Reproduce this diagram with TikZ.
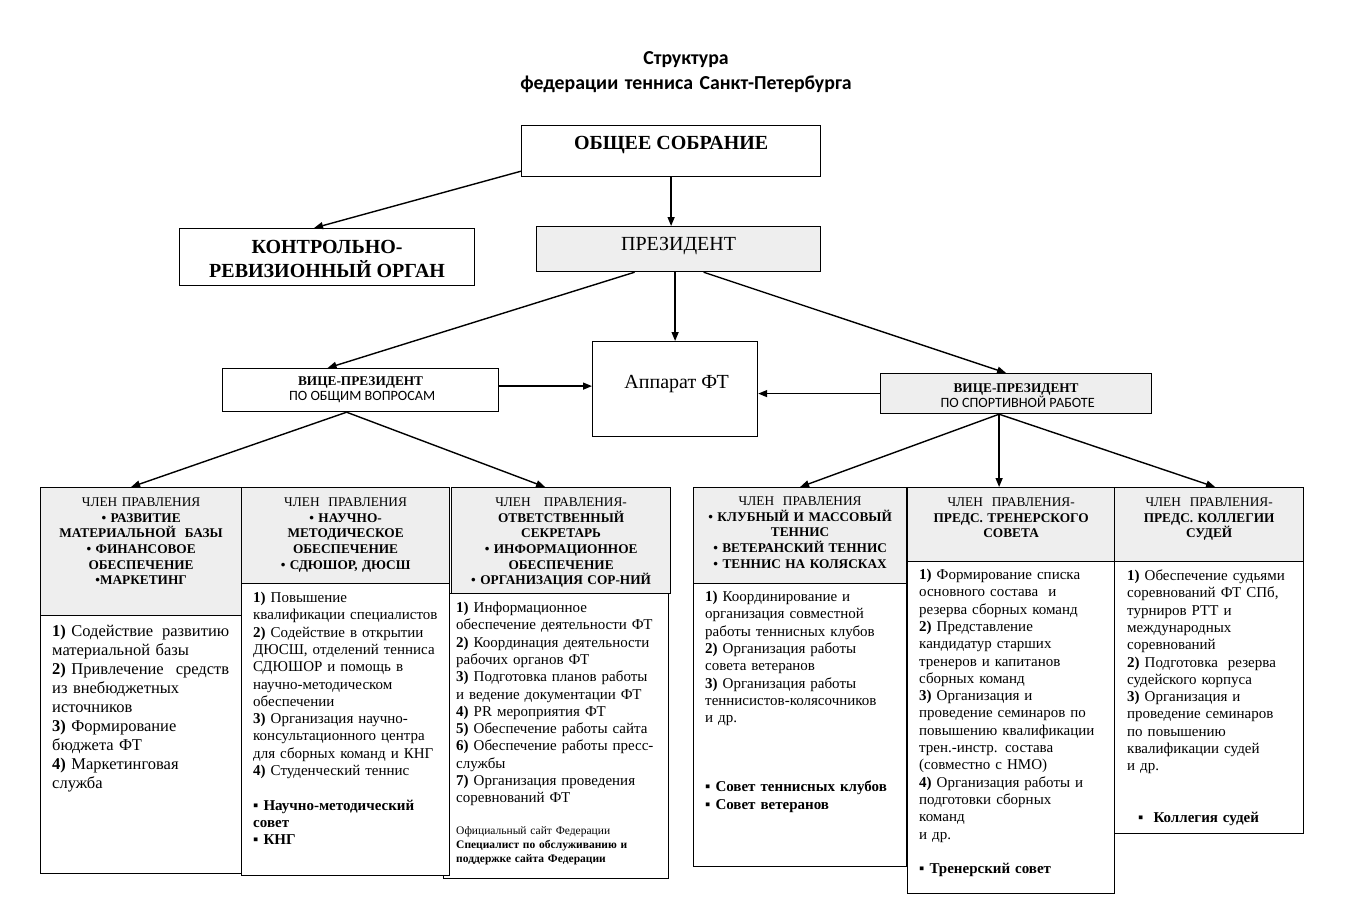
\documentclass[tikz,border=0pt]{standalone}
\usepackage{fontspec}
\setmainfont{Liberation Serif}
\newfontfamily\calibfont{Carlito}
\usetikzlibrary{calc}
\usetikzlibrary{arrows.meta}
\newcommand{\fsz}[2]{\fontsize{#1}{#2}\selectfont}

\begin{document}
\begin{tikzpicture}[x=1pt, y=1pt,
  box/.style={draw, line width=1.2pt, fill=white, inner sep=0pt, anchor=north west},
  greybox/.style={box, fill=gray!13},
  arr/.style={-{Triangle[length=9pt,width=7pt]}, line width=1.4pt},
  hdr/.style={anchor=base, align=center, inner sep=0pt, font=\fsz{13.3}{15.7}},
  body/.style={anchor=base west, align=left, inner sep=0pt, font=\fsz{15}{17.3}}]
\useasboundingbox (0,0) rectangle (1352,-905);

\node[anchor=base, align=center, text width=400pt, inner sep=0pt, font=\calibfont\bfseries\fsz{19.8}{25}] (title) at (686,-64) {Структура\\федерации тенниса Санкт-Петербурга};

\node[box, minimum width=299pt, minimum height=51pt] (sobr) at (521,-125) {};
\node[box, minimum width=295pt, minimum height=57pt] (kro) at (179,-228) {};
\node[greybox, minimum width=284pt, minimum height=45pt] (pres) at (536,-226) {};
\node[box, minimum width=165pt, minimum height=95pt] (app) at (592,-341) {};
\node[box, minimum width=276pt, minimum height=43pt] (vp1) at (222,-368) {};
\node[greybox, minimum width=271pt, minimum height=40pt] (vp2) at (880,-373) {};

\node[anchor=base, inner sep=0pt, font=\bfseries\fsz{20}{24}] (sobr-t) at ($(sobr.north)+(0,-24.5)$) {ОБЩЕЕ СОБРАНИЕ};
\node[align=center, inner sep=0pt, font=\bfseries\fsz{20}{24}] (kro-t) at ($(kro.center)+(0,-1.5)$) {КОНТРОЛЬНО-\\РЕВИЗИОННЫЙ ОРГАН};
\node[anchor=base, inner sep=0pt, font=\fsz{20}{24}] (pres-t) at ($(pres.north)+(0,-24.6)$) {ПРЕЗИДЕНТ};
\node[anchor=base, inner sep=0pt, font=\fsz{20}{24}] (app-t) at ($(app.north)+(1.5,-47.6)$) {Аппарат ФТ};
\node[align=center, inner sep=0pt, font=\fsz{13.3}{15}] (vp1-t) at (vp1.center) {{\bfseries ВИЦЕ-ПРЕЗИДЕНТ}\\{\calibfont\fsz{14.2}{15} ПО ОБЩИМ ВОПРОСАМ}};
\node[align=center, inner sep=0pt, font=\fsz{13.3}{15}] (vp2-t) at ($(vp2.center)+(0,-2)$) {{\bfseries ВИЦЕ-ПРЕЗИДЕНТ}\\{\calibfont\fsz{14.2}{15} ПО СПОРТИВНОЙ РАБОТЕ}};

\node[greybox, minimum width=201pt, minimum height=128pt] (h1) at (40,-487) {};
\node[box, minimum width=201pt, minimum height=258pt] (b1) at (40,-615) {};
\node[greybox, minimum width=219pt, minimum height=106pt] (h3) at (451,-487) {};
\node[box, minimum width=225pt, minimum height=285pt] (b3) at (443,-593) {};
\node[greybox, minimum width=208pt, minimum height=96pt] (h2) at (241,-487) {};
\node[box, minimum width=208pt, minimum height=292pt] (b2) at (241,-583) {};
\node[greybox, minimum width=213pt, minimum height=96pt] (h4) at (693,-487) {};
\node[box, minimum width=213pt, minimum height=283pt] (b4) at (693,-583) {};
\node[greybox, minimum width=207pt, minimum height=74pt] (h5) at (907,-487) {};
\node[box, minimum width=207pt, minimum height=332pt] (b5) at (907,-561) {};
\node[greybox, minimum width=189pt, minimum height=74pt] (h6) at (1114,-487) {};
\node[box, minimum width=189pt, minimum height=272pt] (b6) at (1114,-561) {};

\node[hdr, text width=195pt] (h1-t) at ($(h1.north)+(0,-19.4)$) {ЧЛЕН ПРАВЛЕНИЯ\\\bfseries • РАЗВИТИЕ\\МАТЕРИАЛЬНОЙ \ БАЗЫ\\• ФИНАНСОВОЕ\\ОБЕСПЕЧЕНИЕ\\•МАРКЕТИНГ};
\node[hdr, text width=202pt] (h2-t) at ($(h2.north)+(0,-19.4)$) {ЧЛЕН \ ПРАВЛЕНИЯ\\\bfseries • НАУЧНО-\\МЕТОДИЧЕСКОЕ\\ОБЕСПЕЧЕНИЕ\\• СДЮШОР, ДЮСШ};
\node[hdr, text width=213pt] (h3-t) at ($(h3.north)+(0,-19.4)$) {ЧЛЕН \ \ ПРАВЛЕНИЯ-\\\bfseries ОТВЕТСТВЕННЫЙ\\СЕКРЕТАРЬ\\• ИНФОРМАЦИОННОЕ\\ОБЕСПЕЧЕНИЕ\\• ОРГАНИЗАЦИЯ СОР-НИЙ};
\node[hdr, text width=207pt] (h4-t) at ($(h4.north)+(0,-18.4)$) {ЧЛЕН \ ПРАВЛЕНИЯ\\\bfseries • КЛУБНЫЙ И МАССОВЫЙ\\ТЕННИС\\• ВЕТЕРАНСКИЙ ТЕННИС\\• ТЕННИС НА КОЛЯСКАХ};
\node[hdr, text width=201pt] (h5-t) at ($(h5.north)+(0,-19.4)$) {ЧЛЕН \ ПРАВЛЕНИЯ-\\\bfseries ПРЕДС. ТРЕНЕРСКОГО\\СОВЕТА};
\node[hdr, text width=183pt] (h6-t) at ($(h6.north)+(0,-19.4)$) {ЧЛЕН \ ПРАВЛЕНИЯ-\\\bfseries ПРЕДС. КОЛЛЕГИИ\\СУДЕЙ};

\node[body, text width=177pt, font=\fsz{16.5}{19}] (b1-t) at ($(b1.north west)+(12,-21)$) {\textbf{1)} Содействие\hfill развитию\\материальной базы\\\textbf{2)} Привлечение\hfill средств\\из внебюджетных\\источников\\\textbf{3)} Формирование\\бюджета ФТ\\\textbf{4)} Маркетинговая\\служба};
\node[body, text width=195pt] (b2-t) at ($(b2.north west)+(12,-19.5)$) {\textbf{1)} Повышение\\квалификации специалистов\\\textbf{2)} Содействие в открытии\\ДЮСШ, отделений тенниса\\СДЮШОР и помощь в\\научно-методическом\\обеспечении\\\textbf{3)} Организация научно-\\консультационного центра\\для сборных команд и КНГ\\\textbf{4)} Студенческий теннис\\[17.3pt]\textbf{▪ Научно-методический}\\\textbf{совет}\\\textbf{▪ КНГ}};
\node[body, text width=210pt] (b3-t) at ($(b3.north west)+(13,-19.5)$) {\textbf{1)} Информационное\\обеспечение деятельности ФТ\\\textbf{2)} Координация деятельности\\рабочих органов ФТ\\\textbf{3)} Подготовка планов работы\\и ведение документации ФТ\\\textbf{4)} PR мероприятия ФТ\\\textbf{5)} Обеспечение работы сайта\\\textbf{6)} Обеспечение работы пресс-\\службы\\\textbf{7)} Организация проведения\\соревнований ФТ};
\node[body, text width=205pt, font=\fsz{11.5}{14}] (b3-n) at ($(b3.north west)+(13,-241.5)$) {Официальный сайт Федерации\\\textbf{Специалист по обслуживанию и}\\\textbf{поддержке сайта Федерации}};
\node[body, text width=200pt] (b4-t) at ($(b4.north west)+(12,-18.5)$) {\textbf{1)} Координирование и\\организация совместной\\работы теннисных клубов\\\textbf{2)} Организация работы\\совета ветеранов\\\textbf{3)} Организация работы\\теннисистов-колясочников\\и др.\\[51.9pt]\textbf{▪ Совет теннисных клубов}\\\textbf{▪ Совет ветеранов}};
\node[body, text width=195pt] (b5-t) at ($(b5.north west)+(12,-18.5)$) {\textbf{1)} Формирование списка\\основного состава \ и\\резерва сборных команд\\\textbf{2)} Представление\\кандидатур старших\\тренеров и капитанов\\сборных команд\\\textbf{3)} Организация и\\проведение семинаров по\\повышению квалификации\\трен.-инстр. состава\\(совместно с НМО)\\\textbf{4)} Организация работы и\\подготовки сборных\\команд\\и др.\\[17.3pt]\textbf{▪ Тренерский совет}};
\node[body, text width=176pt] (b6-t) at ($(b6.north west)+(13,-19.5)$) {\textbf{1)} Обеспечение судьями\\соревнований ФТ СПб,\\турниров РТТ и\\международных\\соревнований\\\textbf{2)} Подготовка \ резерва\\судейского корпуса\\\textbf{3)} Организация и\\проведение семинаров\\по повышению\\квалификации судей\\и др.\\[34.6pt]\hspace*{11pt}\textbf{▪ \ Коллегия судей}};

\coordinate (va) at ($(vp1.east)+(0,4)$);
\coordinate (v1) at ($(vp1.south)+(-14,0)$);
\coordinate (v2) at ($(vp2.south)+(-17,0)$);

\draw[arr] ($(sobr.south west)+(0,6)$) -- ($(kro.north)+(-13,0)$);
\draw[arr] (sobr.south) -- (sobr.south |- pres.north);
\draw[arr] (app.north |- pres.south) -- (app.north);
\draw[arr] ($(pres.south)+(-44,0)$) -- ($(vp1.north)+(-33,0)$);
\draw[arr] ($(pres.south)+(25,0)$) -- ($(vp2.north)+(-10,0)$);
\draw[arr] (va) -- (va -| app.west);
\draw[arr] (vp2.west) -- (vp2.west -| app.east);
\draw[arr] (v1) -- ($(h1.north)+(-10,0)$);
\draw[arr] (v1) -- ($(h3.north)+(-16,0)$);
\draw[arr] (v2) -- (h4.north);
\draw[arr] (v2) -- (v2 |- h5.north);
\draw[arr] (v2) -- ($(h6.north)+(6,0)$);

\end{tikzpicture}
\end{document}
